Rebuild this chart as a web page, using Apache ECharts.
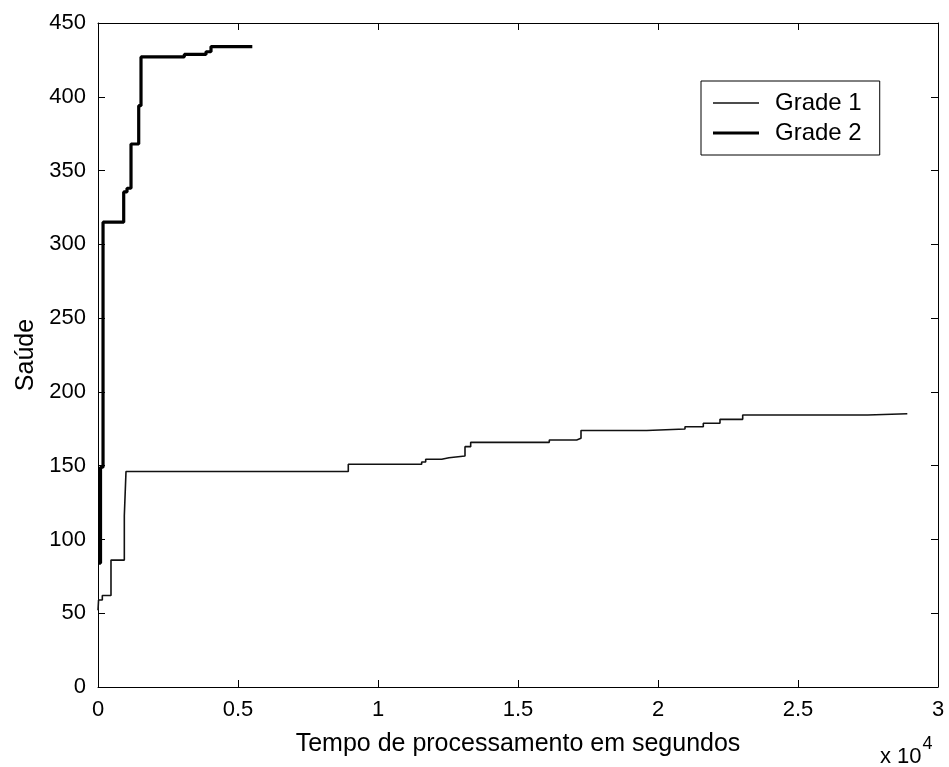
<!DOCTYPE html>
<html>
<head>
<meta charset="utf-8">
<script src="https://cdn.jsdelivr.net/npm/echarts@6/dist/echarts.min.js"></script>
<style>
html,body{margin:0;padding:0;background:#fff;}
#chart{width:949px;height:767px;}
</style>
</head>
<body>
<div id="chart"></div>
<script>
// ---- Data ----
const grade1Time   = [0, 20, 154, 464, 940, 1000, 8939, 11560, 11703, 12275, 12536, 13107, 13310, 16118, 17096, 17250, 19596, 20964, 21618, 22214, 23025, 27489, 28904];
const grade1Health = [52, 59, 62, 86, 116, 146, 151, 152.5, 154.3, 155.4, 156.5, 162.9, 165.8, 167.4, 168.5, 173.8, 174.8, 176.4, 178.7, 181.4, 184.3, 185.2, 185.2];

const grade2Time   = [0, 90, 180, 918, 1036, 1179, 1454, 1536, 3082, 3857, 4036, 5511];
const grade2Health = [84, 149, 315, 335.5, 338, 368, 394, 427, 428.7, 430.5, 434, 434];

const seriesNames  = ['Grade 1', 'Grade 2'];
const xTickLabels  = ['0', '0.5', '1', '1.5', '2', '2.5', '3'];
const yTickLabels  = ['0', '50', '100', '150', '200', '250', '300', '350', '400', '450'];
const xAxisTitle   = 'Tempo de processamento em segundos';
const yAxisTitle   = 'Saúde';
const xExponent    = '4';

const pairs = (xs, ys) => xs.map((x, i) => [x, ys[i]]);

const FONT = 'Liberation Sans, Arial, sans-serif';
const FS = 22;
const NAME_FS = 25;

const chart = echarts.init(document.getElementById('chart'), null, {renderer: 'canvas'});

const baseX = {
  type: 'value', min: 0, max: 30000, interval: 5000,
  axisLine: {show: true, onZero: false, lineStyle: {color: '#000', width: 1}},
  axisTick: {show: true, inside: true, length: 7, lineStyle: {color: '#000'}},
  splitLine: {show: false}
};
const baseY = {
  type: 'value', min: 0, max: 450, interval: 50,
  axisLine: {show: true, onZero: false, lineStyle: {color: '#000', width: 1}},
  axisTick: {show: true, inside: true, length: 7, lineStyle: {color: '#000'}},
  splitLine: {show: false}
};

// legend icons: thin and thick horizontal lines (bounding box fixed to 46x14)
const thinIcon  = 'path://M0,0L0,0M0,6.2H46V7.8H0ZM46,14L46,14';
const thickIcon = 'path://M0,0L0,0M0,5.4H46V8.6H0ZM46,14L46,14';

chart.setOption({
  animation: false,
  backgroundColor: '#fff',
  grid: {left: 98, right: 11, top: 23, bottom: 80, containLabel: false},
  xAxis: [
    Object.assign({}, baseX, {
      position: 'bottom',
      axisLabel: {show: true, margin: 12, color: '#000', fontFamily: FONT, fontSize: FS,
        formatter: (v, i) => xTickLabels[i]},
      name: xAxisTitle, nameLocation: 'middle', nameGap: 45,
      nameTextStyle: {color: '#000', fontFamily: FONT, fontSize: NAME_FS}
    }),
    Object.assign({}, baseX, {position: 'top', axisLabel: {show: false}})
  ],
  yAxis: [
    Object.assign({}, baseY, {
      position: 'left',
      axisLabel: {show: true, margin: 12, color: '#000', fontFamily: FONT, fontSize: FS,
        formatter: (v, i) => yTickLabels[i]},
      name: yAxisTitle, nameLocation: 'middle', nameGap: 57, nameRotate: 90,
      nameTextStyle: {color: '#000', fontFamily: FONT, fontSize: NAME_FS}
    }),
    Object.assign({}, baseY, {position: 'right', axisLabel: {show: false}})
  ],
  legend: {
    show: true, orient: 'vertical', left: 701, top: 81,
    data: [
      {name: seriesNames[0], icon: thinIcon},
      {name: seriesNames[1], icon: thickIcon}
    ],
    backgroundColor: '#fff', borderColor: '#000', borderWidth: 1,
    padding: [10, 18, 10, 12],
    itemWidth: 46, itemHeight: 14, itemGap: 6,
    itemStyle: {borderWidth: 0},
    textStyle: {color: '#000', fontFamily: FONT, fontSize: 24, padding: [0, 0, 0, 11]}
  },
  graphic: [{
    type: 'text', left: 880, top: 735,
    style: {
      text: '{a|x 10}{b|' + xExponent + '}',
      rich: {
        a: {fontFamily: FONT, fontSize: 22, fill: '#000', padding: [11, 0, 0, 0]},
        b: {fontFamily: FONT, fontSize: 18, fill: '#000', verticalAlign: 'top', padding: [0, 0, 0, 1]}
      }
    }
  }],
  series: [
    {
      name: seriesNames[0], type: 'line', step: 'end', symbol: 'none', showSymbol: false,
      data: pairs(grade1Time, grade1Health),
      lineStyle: {color: '#111', width: 1.6}, itemStyle: {color: '#111'}, z: 3
    },
    {
      name: seriesNames[1], type: 'line', step: 'end', symbol: 'none', showSymbol: false,
      data: pairs(grade2Time, grade2Health),
      lineStyle: {color: '#000', width: 3.2}, itemStyle: {color: '#000'}, z: 4
    }
  ]
});
</script>
</body>
</html>
